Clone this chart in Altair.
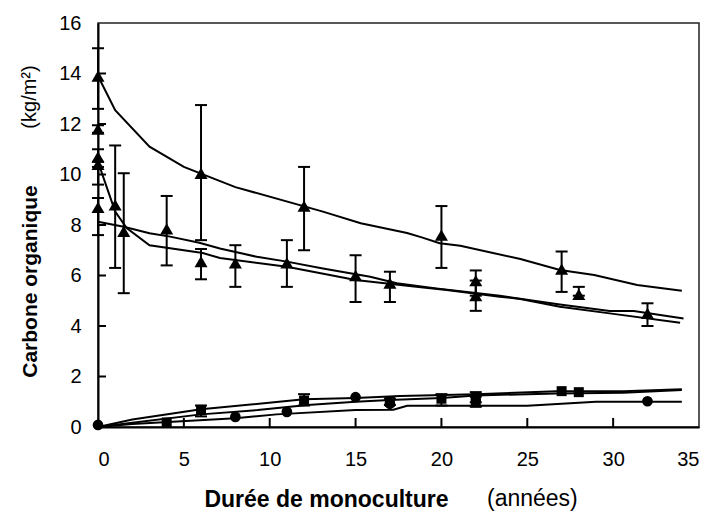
import altair as alt
import pandas as pd

# ---------------- data ----------------
# observed points (triangles = upper group)
tri_x  = [0, 0, 0, 0, 0, 1, 1.5, 4, 6, 6, 8, 11, 12, 15, 17, 20, 22, 22, 27, 28, 32]
tri_y  = [13.9, 11.8, 10.7, 10.4, 8.7, 8.8, 7.75, 7.85, 10.05, 6.55, 6.5, 6.5, 8.75, 6.0, 5.7, 7.6, 5.8, 5.2, 6.25, 5.25, 4.5]
tri_lo = [12.6, 11.65, 10.3, 9.6, 7.6, 6.3, 5.3, 6.4, 7.4, 5.85, 5.55, 5.55, 7.0, 4.95, 4.95, 6.3, 5.2, 4.6, 5.35, 5.2, 4.0]
tri_hi = [15.0, 11.95, 11.0, 10.5, 9.07, 11.15, 10.05, 9.15, 12.75, 7.05, 7.2, 7.4, 10.3, 6.8, 6.15, 8.75, 6.2, 5.8, 6.95, 5.55, 4.9]

# lower group: circles and squares
cir_x = [0, 8, 11, 15, 17, 32]
cir_y = [0.08, 0.4, 0.6, 1.18, 0.92, 1.02]
sq_x  = [4, 6, 12, 17, 20, 22, 22, 27, 28]
sq_y  = [0.18, 0.68, 1.05, 1.0, 1.12, 1.2, 0.98, 1.42, 1.38]
sq_lo = [None, 0.42, 0.85, 0.87, 0.85, 0.98, 0.8, None, None]
sq_hi = [None, 0.85, 1.3, 1.12, 1.3, 1.38, 1.2, None, None]

# model curves
A_x = [0, 1, 3, 5, 8, 13.1, 15.3, 18, 18.9, 19.9, 21.1, 24.6, 26.9, 28.9, 31.4, 34]
A_y = [13.9, 12.55, 11.1, 10.3, 9.5, 8.53, 8.07, 7.68, 7.5, 7.28, 7.18, 6.65, 6.22, 6.02, 5.62, 5.4]
B_x = [0, 1, 1.67, 3, 6.1, 7.1, 11, 13.5, 15, 18.4, 20.3, 23.4, 24.6, 26.9, 29.8, 33.9]
B_y = [10.5, 8.53, 7.88, 7.2, 6.89, 6.69, 6.35, 6.02, 5.82, 5.56, 5.43, 5.16, 5.07, 4.76, 4.5, 4.13]
C_x = [0, 1.5, 3, 4.2, 5.9, 7.1, 9.25, 11, 13.1, 15.85, 17.4, 19.7, 23.4, 26.9, 29.8, 31.2, 34.1]
C_y = [8.13, 7.93, 7.67, 7.54, 7.3, 7.07, 6.74, 6.55, 6.28, 5.95, 5.69, 5.49, 5.2, 4.85, 4.59, 4.59, 4.3]
D_x = [0, 2, 6, 12, 15, 17.6, 22, 26.7, 30.6, 34]
D_y = [0.0, 0.3, 0.7, 1.1, 1.15, 1.23, 1.3, 1.42, 1.42, 1.5]
E_x = [0, 2, 6, 9.3, 12.2, 15, 17, 20, 22, 26.7, 30.6, 34]
E_y = [0.0, 0.17, 0.5, 0.67, 0.87, 1.0, 1.07, 1.15, 1.25, 1.33, 1.36, 1.47]
F_x = [0, 2, 8, 10.4, 15, 17.2, 18, 25, 29, 34]
F_y = [0.0, 0.12, 0.35, 0.5, 0.67, 0.68, 0.84, 0.84, 1.0, 1.0]

x_ticks = [0, 5, 10, 15, 20, 25, 30, 35]
y_ticks = [0, 2, 4, 6, 8, 10, 12, 14, 16]

# ---------------- tables ----------------
obs_tri = pd.DataFrame({"x": tri_x, "y": tri_y, "lo": tri_lo, "hi": tri_hi})
obs_cir = pd.DataFrame({"x": cir_x, "y": cir_y})
obs_sq = pd.DataFrame({"x": sq_x, "y": sq_y, "lo": sq_lo, "hi": sq_hi})
err = pd.concat([obs_tri[["x", "lo", "hi"]], obs_sq[["x", "lo", "hi"]]]).dropna()

curves = []
for name, xs, ys in [("A", A_x, A_y), ("B", B_x, B_y), ("C", C_x, C_y),
                     ("D", D_x, D_y), ("E", E_x, E_y), ("F", F_x, F_y)]:
    for i, (a, b) in enumerate(zip(xs, ys)):
        curves.append({"s": name, "x": a, "y": b, "i": i})
curves = pd.DataFrame(curves)

W, H = 601, 404
FONT = "Liberation Sans"

xscale = alt.Scale(domain=[0, 35], nice=False, zero=False)
yscale = alt.Scale(domain=[0, 16], nice=False)
xaxis = alt.Axis(values=x_ticks, ticks=False, grid=False, labelFontSize=20,
                 labelPadding=22, labelFont=FONT, labelColor="black",
                 domainColor="black", domainWidth=2,
                 title="Durée de monoculture", titleFont=FONT, titleFontSize=23,
                 titleFontWeight="bold", titleColor="black",
                 titleX=228, titleY=72, titleAlign="center", titleBaseline="middle")
yaxis = alt.Axis(values=y_ticks, ticks=False, grid=False, labelFontSize=20,
                 labelPadding=17, labelFont=FONT, labelColor="black",
                 domainColor="black", domainWidth=2,
                 title="Carbone organique", titleFont=FONT, titleFontSize=21,
                 titleFontWeight="bold", titleColor="black", titleAngle=270,
                 titleX=-68, titleY=258, titleAlign="center", titleBaseline="middle")


def X(f="x"):
    return alt.X(f, type="quantitative", scale=xscale, axis=xaxis)


def Y(f="y"):
    return alt.Y(f, type="quantitative", scale=yscale, axis=yaxis)


lines = alt.Chart(curves).mark_line(color="black", strokeWidth=2).encode(
    x=X(), y=Y(), detail="s:N", order="i:Q")

bars = alt.Chart(err).mark_rule(color="black", strokeWidth=2).encode(
    x=X(), y=Y("lo"), y2="hi")
cap_lo = alt.Chart(err).mark_tick(color="black", orient="horizontal", size=12,
                                  thickness=2, opacity=1).encode(x=X(), y=Y("lo"))
cap_hi = alt.Chart(err).mark_tick(color="black", orient="horizontal", size=12,
                                  thickness=2, opacity=1).encode(x=X(), y=Y("hi"))

tris = alt.Chart(obs_tri).mark_point(shape="triangle-up", filled=True, color="black",
                                     size=170, opacity=1).encode(x=X(), y=Y())
cirs = alt.Chart(obs_cir).mark_point(shape="circle", filled=True, color="black",
                                     size=115, opacity=1).encode(x=X(), y=Y())
sqs = alt.Chart(obs_sq).mark_point(shape="square", filled=True, color="black",
                                   size=100, opacity=1).encode(x=X(), y=Y())

# inward axis ticks
yt = pd.DataFrame({"y": y_ticks[1:-1]})
xt = pd.DataFrame({"x": x_ticks[1:-1]})
ytick = alt.Chart(yt).mark_rule(color="black", strokeWidth=2).encode(
    y=Y(), x=alt.value(0), x2=alt.value(8))
xtick = alt.Chart(xt).mark_rule(color="black", strokeWidth=2).encode(
    x=X(), y=alt.value(H), y2=alt.value(H - 9))

units_y = alt.Chart(pd.DataFrame({"t": ["(kg/m²)"]})).mark_text(
    font=FONT, fontSize=20, angle=270, align="center", baseline="middle",
    color="black").encode(text="t:N", x=alt.value(-68), y=alt.value(74))
units_x = alt.Chart(pd.DataFrame({"t": ["(années)"]})).mark_text(
    font=FONT, fontSize=23, align="left", baseline="middle",
    color="black").encode(text="t:N", x=alt.value(389), y=alt.value(476))

chart = alt.layer(lines, bars, cap_lo, cap_hi, tris, cirs, sqs, ytick, xtick,
                  units_y, units_x).properties(
    width=W, height=H,
    autosize=alt.AutoSizeParams(type="none"),
    padding={"left": 90, "top": 15, "right": 5, "bottom": 92},
    background="white",
).configure_view(stroke="#222", strokeWidth=1.5)

chart.save("out.html", embed_options={"renderer": "svg", "actions": False})
